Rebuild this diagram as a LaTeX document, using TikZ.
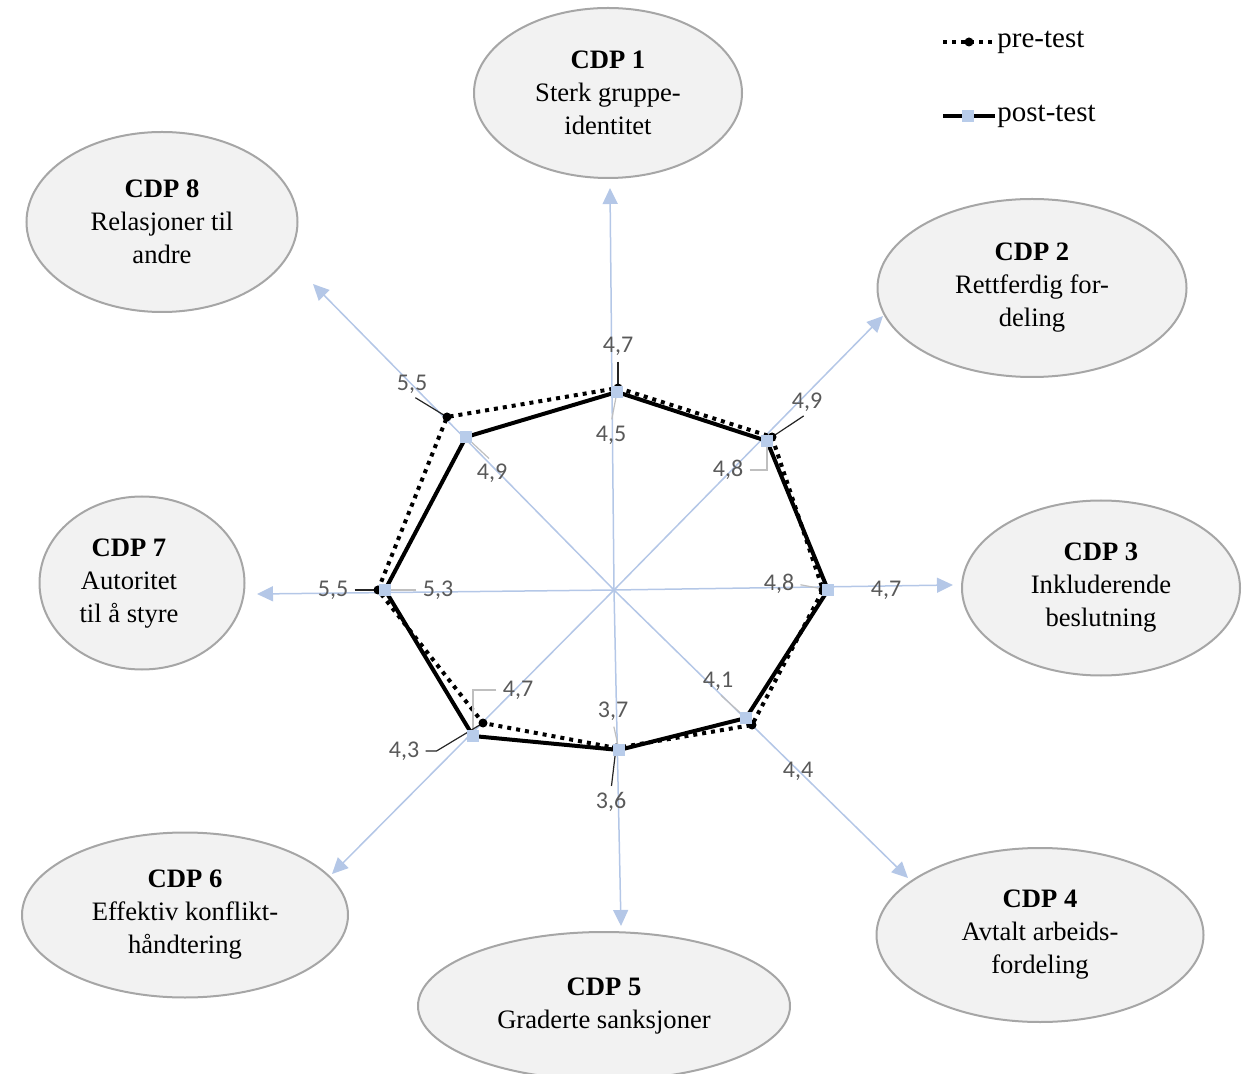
\documentclass[tikz,border=0pt]{standalone}
\usepackage{fontspec}
\setmainfont{Liberation Serif}
\newfontfamily\valfont{Carlito}
\usepackage{tikz}
\usetikzlibrary{arrows.meta,shapes.geometric,positioning}
\definecolor{axisblue}{RGB}{180,199,231}
\definecolor{markblue}{RGB}{184,204,234}
\definecolor{cdpfill}{RGB}{242,242,242}
\definecolor{cdpdraw}{RGB}{166,166,166}
\definecolor{valgray}{RGB}{89,89,89}
\definecolor{leadgray}{RGB}{191,191,191}

\begin{document}
\begin{tikzpicture}[x=0.5pt, y=-0.5pt,
    cdp/.style={ellipse, draw=cdpdraw, line width=1pt, fill=cdpfill, inner sep=0pt, align=center, font=\fontsize{13.3}{16.5}\selectfont},
    cdptext/.style={align=center, inner sep=0pt, font=\fontsize{13.3}{16.5}\selectfont},
    axis/.style={-{Triangle[length=8pt,width=7.5pt]}, draw=axisblue, line width=0.75pt},
    pre/.style={line width=2pt, dash pattern=on 2pt off 2.5pt},
    post/.style={line width=2pt},
    val/.style={font=\valfont\fontsize{12}{14}\selectfont, text=valgray, inner sep=1pt},
    leadpre/.style={draw=black!85, line width=0.6pt, shorten <=2pt},
    leadpost/.style={draw=leadgray, line width=0.6pt, shorten <=2pt},
    premark/.style={circle, fill=black, inner sep=0pt, minimum size=4.5pt},
    postmark/.style={rectangle, fill=markblue, inner sep=0pt, minimum size=6pt},
    legtext/.style={font=\fontsize{14.5}{16}\selectfont, inner sep=0pt}
]
    \useasboundingbox (0,0) rectangle (1242,1074);
    \clip (0,0) rectangle (1242,1074);

    % CDP ellipses
    \node[cdp, minimum width=134pt, minimum height=85pt] (cdp1) at (608,93) {\textbf{CDP 1}\\Sterk gruppe-\\identitet};
    \node[cdp, minimum width=154.5pt, minimum height=89pt] (cdp2) at (1032,288) {\textbf{CDP 2}\\Rettferdig for-\\deling};
    \node[cdp, minimum width=139pt, minimum height=87.5pt] (cdp3) at (1101,588) {\textbf{CDP 3}\\Inkluderende\\beslutning};
    \node[cdp, minimum width=163.5pt, minimum height=87pt] (cdp4) at (1040,935) {\textbf{CDP 4}\\Avtalt arbeids-\\fordeling};
    \node[cdp, minimum width=186pt, minimum height=74pt] (cdp5) at (604,1006) {\textbf{CDP 5}\\Graderte sanksjoner};
    \node[cdp, minimum width=163pt, minimum height=82.5pt] (cdp6) at (185,915) {\textbf{CDP 6}\\Effektiv konflikt-\\håndtering};
    \node[cdp, minimum width=102.5pt, minimum height=86.5pt] (cdp7) at (142,583) {};
    \node[cdptext] (cdp7txt) at (129,584) {\textbf{CDP 7}\\Autoritet\\til å styre};
    \node[cdp, minimum width=135.5pt, minimum height=90pt] (cdp8) at (162,222) {\textbf{CDP 8}\\Relasjoner til\\andre};

    % axes
    \coordinate (c) at (614,590);
    \coordinate (t1) at (610,188);
    \coordinate (t2) at (883,316);
    \coordinate (t3) at (953,585);
    \coordinate (t4) at (908,878);
    \coordinate (t5) at (621,926);
    \coordinate (t6) at (332,874);
    \coordinate (t7) at (257,594);
    \coordinate (t8) at (313,284);
    \draw[axis] (c) -- (t1);
    \draw[axis] (c) -- (t2);
    \draw[axis] (c) -- (t3);
    \draw[axis] (c) -- (t4);
    \draw[axis] (c) -- (t5);
    \draw[axis] (c) -- (t6);
    \draw[axis] (c) -- (t7);
    \draw[axis] (c) -- (t8);

    % pre-test values
    \coordinate (p1) at (618,388);
    \coordinate (p2) at (772,437);
    \coordinate (p3) at (823,590);
    \coordinate (p4) at (752,725);
    \coordinate (p5) at (616,748);
    \coordinate (p6) at (483,723);
    \coordinate (p7) at (378,590);
    \coordinate (p8) at (447,417);
    % post-test values
    \coordinate (q1) at (617,392);
    \coordinate (q2) at (767,441);
    \coordinate (q3) at (828,590);
    \coordinate (q4) at (746,718);
    \coordinate (q5) at (619,750);
    \coordinate (q6) at (473,736);
    \coordinate (q7) at (385,590);
    \coordinate (q8) at (466,437);

    \draw[pre] (p1) -- (p2) -- (p3) -- (p4) -- (p5) -- (p6) -- (p7) -- (p8) -- cycle;
    \draw[post] (q1) -- (q2) -- (q3) -- (q4) -- (q5) -- (q6) -- (q7) -- (q8) -- cycle;

    % value labels
    \node[val] (v1pre) at (618,346) {4,7};
    \node[val] (v1post) at (611,435) {4,5};
    \node[val] (v2pre) at (807,402) {4,9};
    \node[val] (v2post) at (728,470) {4,8};
    \node[val] (v3post) at (779,584) {4,8};
    \node[val] (v3pre) at (886,590) {4,7};
    \node[val] (v4post) at (718,681) {4,1};
    \node[val] (v4pre) at (798,771) {4,4};
    \node[val] (v5post) at (613,711) {3,7};
    \node[val] (v5pre) at (611,802) {3,6};
    \node[val] (v6post) at (518,690) {4,7};
    \node[val] (v6pre) at (404,751) {4,3};
    \node[val] (v7pre) at (333,590) {5,5};
    \node[val] (v7post) at (438,590) {5,3};
    \node[val] (v8pre) at (412,384) {5,5};
    \node[val] (v8post) at (492,473) {4,9};

    \draw[leadpre] (v1pre.south) -- (p1);
    \draw[leadpost] (v1post.north) -- (q1);
    \draw[leadpre] (v2pre.south) -- (p2);
    \draw[leadpost] (v2post.east) -| (q2);
    \draw[leadpost] (v3post.east) -- (q3);
    \draw[leadpost] (v4post.south) -- (q4);
    \draw[leadpost] (v5post.south) -- (q5);
    \draw[leadpre] (v5pre.north) -- (p5);
    \draw[leadpost] (v6post.west) -| (q6);
    \draw[leadpre] (v6pre.east) -- ++(15,0) -- (p6);
    \draw[leadpre] (v7pre.east) -- (p7);
    \draw[leadpost] (v7post.west) -- (q7);
    \draw[leadpre] (v8pre.south) -- (p8);
    \draw[leadpost] (v8post.north) -- (q8);

    % markers
    \node[premark] (mp1) at (p1) {};
    \node[premark] (mp2) at (p2) {};
    \node[premark] (mp3) at (p3) {};
    \node[premark] (mp4) at (p4) {};
    \node[premark] (mp5) at (p5) {};
    \node[premark] (mp6) at (p6) {};
    \node[premark] (mp7) at (p7) {};
    \node[premark] (mp8) at (p8) {};
    \node[postmark] (mq1) at (q1) {};
    \node[postmark] (mq2) at (q2) {};
    \node[postmark] (mq3) at (q3) {};
    \node[postmark] (mq4) at (q4) {};
    \node[postmark] (mq5) at (q5) {};
    \node[postmark] (mq6) at (q6) {};
    \node[postmark] (mq7) at (q7) {};
    \node[postmark] (mq8) at (q8) {};

    % legend
    \coordinate (preA) at (943,42);
    \coordinate (preB) at (995,42);
    \draw[pre] (preA) -- (preB);
    \node[premark] (premk) at (969,42) {};
    \node[legtext, right=1pt of preB] (pretxt) {pre-test};
    \coordinate (postA) at (943,116);
    \coordinate (postB) at (995,116);
    \draw[post] (postA) -- (postB);
    \node[postmark] (postmk) at (968,116) {};
    \node[legtext, right=1pt of postB] (posttxt) {post-test};
\end{tikzpicture}
\end{document}
